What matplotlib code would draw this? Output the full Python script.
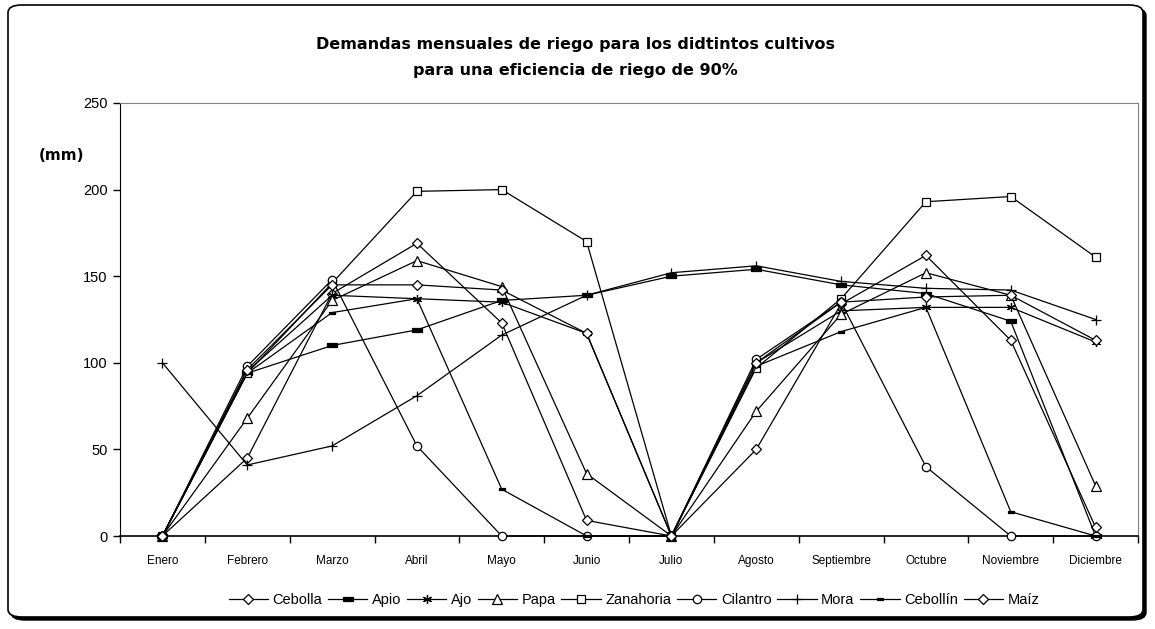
import matplotlib

matplotlib.use("Agg")
import matplotlib.pyplot as plt
from matplotlib.patches import FancyBboxPatch


MONTHS = ["Enero", "Febrero", "Marzo", "Abril", "Mayo", "Junio", "Julio",
          "Agosto", "Septiembre", "Octubre", "Noviembre", "Diciembre"]

cebolla = [0, 45, 140, 169, 123, 9, 0, 50, 134, 162, 113, 5]
apio = [0, 94, 110, 119, 136, 139, 150, 154, 145, 140, 124, 0]
ajo = [0, 95, 139, 137, 135, 117, 0, 100, 130, 132, 132, 112]
papa = [0, 68, 136, 159, 144, 36, 0, 72, 128, 152, 139, 29]
zanahoria = [0, 94, 146, 199, 200, 170, 0, 97, 137, 193, 196, 161]
cilantro = [0, 98, 148, 52, 0, 0, 0, 102, 135, 40, 0, 0]
mora = [100, 41, 52, 81, 116, 139, 152, 156, 147, 143, 142, 125]
cebollin = [0, 94, 129, 137, 27, 0, 0, 98, 118, 132, 14, 0]
maiz = [0, 96, 145, 145, 142, 117, 0, 100, 135, 138, 139, 113]

SERIES_NAMES = ["Cebolla", "Apio", "Ajo", "Papa", "Zanahoria", "Cilantro",
                "Mora", "Cebollín", "Maíz"]
SERIES_VALUES = [cebolla, apio, ajo, papa, zanahoria, cilantro, mora, cebollin, maiz]

BAR = [(-1, -0.38), (1, -0.38), (1, 0.38), (-1, 0.38), (-1, -0.38)]

MARKERS = {
    "Cebolla": dict(marker="D", ms=5.4, mfc="white"),
    "Apio": dict(marker=BAR, ms=7, mfc="black"),
    "Ajo": dict(marker=(6, 2, 0), ms=6.5, mfc="black"),
    "Papa": dict(marker="^", ms=6.8, mfc="white"),
    "Zanahoria": dict(marker="s", ms=5.8, mfc="white"),
    "Cilantro": dict(marker="o", ms=6, mfc="white"),
    "Mora": dict(marker="+", ms=7.5, mfc="black"),
    "Cebollín": dict(marker=BAR, ms=4.5, mfc="black"),
    "Maíz": dict(marker="D", ms=5.4, mfc="white"),
}

W, H = 1155, 629


def _draw_frame(figure):
    shadow = FancyBboxPatch(
        (11 / W, 1 - 620 / H), 1135 / W, 612 / H,
        boxstyle="round,pad=0,rounding_size=0.012",
        transform=figure.transFigure, facecolor="black", edgecolor="black", zorder=-2,
    )
    box = FancyBboxPatch(
        (8 / W, 1 - 617 / H), 1135 / W, 612 / H,
        boxstyle="round,pad=0,rounding_size=0.012",
        transform=figure.transFigure, facecolor="white", edgecolor="black",
        linewidth=1.2, zorder=-1,
    )
    figure.patches.extend([shadow, box])


def _draw_series(axis):
    x = list(range(len(MONTHS)))
    for name, values in zip(SERIES_NAMES, SERIES_VALUES):
        style = MARKERS[name]
        axis.plot(
            x, values,
            color="black", linewidth=0.9,
            marker=style["marker"], markersize=style["ms"],
            markerfacecolor=style["mfc"], markeredgecolor="black",
            markeredgewidth=0.9, label=name, clip_on=False, zorder=3,
        )


def _style_axis(axis):
    axis.set_xlim(-0.5, len(MONTHS) - 0.5)
    axis.set_ylim(0, 250)
    axis.set_yticks(range(0, 251, 50))
    axis.set_xticks([i + 0.5 for i in range(-1, len(MONTHS))], minor=False)
    axis.set_xticklabels([])
    axis.set_xticks(range(len(MONTHS)), minor=True)
    axis.set_xticklabels(MONTHS, minor=True, fontsize=8.5, family="Liberation Sans")
    axis.tick_params(axis="x", which="minor", length=0, pad=14)
    axis.tick_params(axis="x", which="major", length=5, width=1, direction="out")
    axis.tick_params(axis="y", length=5, width=1, direction="out", pad=4)
    for label in axis.get_yticklabels():
        label.set_fontsize(10.5)
        label.set_family("Liberation Sans")
    axis.spines["left"].set_color("black")
    axis.spines["bottom"].set_color("black")
    axis.spines["bottom"].set_linewidth(1.2)
    axis.spines["top"].set_color("#808080")
    axis.spines["right"].set_color("#808080")


def main():
    figure = plt.figure(figsize=(W / 100, H / 100), dpi=100)
    _draw_frame(figure)
    axis = figure.add_axes([120 / W, 1 - 536 / H, 1018 / W, 433 / H])
    axis.patch.set_alpha(0)

    _draw_series(axis)
    _style_axis(axis)

    figure.text(575 / W, 1 - 45 / H, "Demandas mensuales de riego para los didtintos cultivos",
                ha="center", va="center", fontsize=11.5, fontweight="bold")
    figure.text(575 / W, 1 - 70 / H, "para una eficiencia de riego de 90%",
                ha="center", va="center", fontsize=11.5, fontweight="bold")
    figure.text(62 / W, 1 - 155 / H, "(mm)", ha="center", va="center",
                fontsize=11, fontweight="bold")

    figure.legend(
        loc="center", bbox_to_anchor=(634 / W, 1 - 600 / H), ncol=9,
        frameon=False, handlelength=2.7, handletextpad=0.3, columnspacing=0.4,
        prop={"family": "Liberation Sans", "size": 10.5},
    )

    figure.savefig("out.png", dpi=100)


main()
